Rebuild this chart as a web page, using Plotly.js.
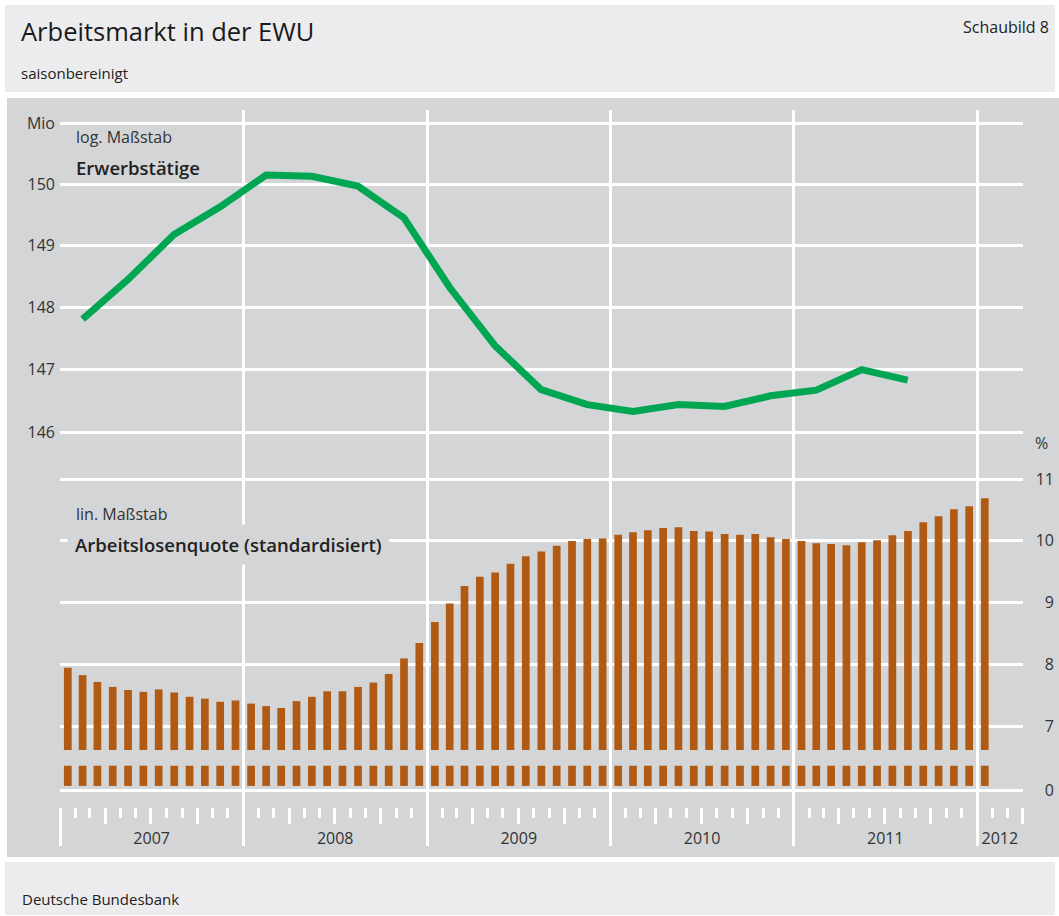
<!DOCTYPE html>
<html>
<head>
<meta charset="utf-8">
<script src="https://cdn.plot.ly/plotly-3.0.1.min.js"></script>
<style>
html,body{margin:0;padding:0;background:#ffffff;}
#chart{width:1059px;height:916px;}
</style>
</head>
<body>
<div id="chart"></div>
<script>
// ---- Data ----
// Erwerbstätige in der EWU (Mio, saisonbereinigt), quarterly
const quarters = ['2007-Q1','2007-Q2','2007-Q3','2007-Q4','2008-Q1','2008-Q2','2008-Q3','2008-Q4',
  '2009-Q1','2009-Q2','2009-Q3','2009-Q4','2010-Q1','2010-Q2','2010-Q3','2010-Q4',
  '2011-Q1','2011-Q2','2011-Q3'];
const employment = [147.81,148.45,149.18,149.63,150.15,150.13,149.97,149.45,
  148.32,147.38,146.68,146.44,146.33,146.44,146.41,146.58,146.67,147.00,146.83];

// Arbeitslosenquote (standardisiert, %), monthly Jan 2007 – Jan 2012
const firstMonth = '2007-01';
const unemployment2007 = [7.95,7.83,7.72,7.64,7.59,7.56,7.60,7.55,7.48,7.45,7.40,7.42];
const unemployment2008 = [7.37,7.33,7.30,7.41,7.48,7.57,7.57,7.64,7.71,7.85,8.10,8.35];
const unemployment2009 = [8.69,8.99,9.27,9.42,9.49,9.63,9.75,9.83,9.92,10.00,10.03,10.04];
const unemployment2010 = [10.10,10.14,10.17,10.21,10.22,10.16,10.15,10.11,10.10,10.11,10.06,10.03];
const unemployment2011 = [10.00,9.96,9.95,9.93,9.98,10.01,10.09,10.16,10.30,10.40,10.51,10.56];
const unemployment2012 = [10.69];
const unemployment = [].concat(unemployment2007,unemployment2008,unemployment2009,
  unemployment2010,unemployment2011,unemployment2012);

// Tick labels
const yearLabels = ['2007','2008','2009','2010','2011','2012'];
const leftTickVals = [146,147,148,149,150,151];
const leftTickText = ['146','147','148','149','150','Mio'];
const rightTickVals = [5.97,7,8,9,10,11];   // 5.97 = position of the "0" below the axis break
const rightTickText = ['0','7','8','9','10','11'];

// ---- Styling / geometry ----
const PLOT_BG = '#d4d5d7';
const PANEL_BG = '#ececee';
const GREEN = '#00a651';
const BROWN = '#b05a14';
const TXT = '#222222';
const RANGE_X = ['2007-01-01','2012-04-01'];
const BAR_BASE = 6.62;     // start of upper bar segment (broken axis)
const STUB_BASE = 6.04;    // lower stub (0 .. break)
const STUB_TOP = 6.366;

const ML = 60, MR = 0, MT = 110, MB = 71, W = 1059, H = 916;
const PW = W - ML - MR, PH = H - MT - MB;
const PX = x => (x - ML) / PW;
const PY = y => (H - MB - y) / PH;
const XDOM = (1022.7 - ML) / PW;

function fmt(ms){ return new Date(ms).toISOString().slice(0,19).replace('T',' '); }
function quarterMid(q){
  const y = +q.slice(0,4), n = +q.slice(6);
  const a = Date.UTC(y,(n-1)*3,1), b = Date.UTC(y,n*3,1);
  return fmt((a+b)/2);
}
const qDates = quarters.map(quarterMid);
const y0 = +firstMonth.slice(0,4), m0 = +firstMonth.slice(5) - 1;
const mDates = unemployment.map((v,i)=>{
  const a = Date.UTC(y0, m0+i, 1), b = Date.UTC(y0, m0+i+1, 1);
  return fmt((a+b)/2);
});
const BAR_W = 0.504 * 30.44 * 86400000;
const rEnd = Date.parse(RANGE_X[1] + 'T00:00:00Z');
const yearMid = yearLabels.map(y=>{
  const a = Date.UTC(+y,0,1), b = Math.min(Date.UTC(+y+1,0,1), rEnd);
  return fmt((a+b)/2);
});

const traces = [
  {type:'bar', x:mDates, y:unemployment.map(()=>STUB_TOP-STUB_BASE), base:STUB_BASE,
   width:BAR_W, xaxis:'x', yaxis:'y2', marker:{color:BROWN, line:{width:0}}, hoverinfo:'skip'},
  {type:'bar', x:mDates, y:unemployment.map(v=>v-BAR_BASE), base:BAR_BASE,
   width:BAR_W, xaxis:'x', yaxis:'y2', marker:{color:BROWN, line:{width:0}}, hoverinfo:'skip'},
  {type:'scatter', mode:'lines', x:qDates, y:employment, xaxis:'x', yaxis:'y',
   line:{color:GREEN, width:7}, hoverinfo:'skip'},
  {type:'scatter', mode:'lines', x:[], y:[], xaxis:'x2', yaxis:'y', hoverinfo:'skip'},
  {type:'scatter', mode:'lines', x:[], y:[], xaxis:'x3', yaxis:'y', hoverinfo:'skip'}
];

const FAM = 'Open Sans, sans-serif';
const tickFont = {family:FAM, size:16, color:'#333333'};
const ann = (text, x, y, o) => Object.assign({text:text, xref:'paper', yref:'paper', x:PX(x), y:PY(y),
  xanchor:'left', yanchor:'middle', showarrow:false,
  font:{family:FAM, size:15.5, color:TXT}}, o||{});

const layout = {
  width:W, height:H,
  margin:{l:ML, r:MR, t:MT, b:MB, pad:0},
  paper_bgcolor:'#ffffff', plot_bgcolor:PLOT_BG,
  showlegend:false, hovermode:false, barmode:'overlay',
  font:{family:FAM, color:'#333333'},
  xaxis:{type:'date', domain:[0,XDOM], range:RANGE_X, anchor:'free', position:PY(807), side:'bottom',
    tick0:'2007-01-01', dtick:'M12', ticks:'outside', ticklen:38, tickwidth:3, tickcolor:'#ffffff',
    showticklabels:false, showgrid:true, gridcolor:'#ffffff', gridwidth:3, zeroline:false, showline:false,
    minor:{tick0:'2007-01-01', dtick:'M3', ticks:'outside', ticklen:16, tickwidth:3, tickcolor:'#ffffff', showgrid:false}},
  xaxis2:{type:'date', overlaying:'x', range:RANGE_X, anchor:'free', position:PY(807), side:'bottom',
    tick0:'2007-01-01', dtick:'M1', ticks:'outside', ticklen:10, tickwidth:3, tickcolor:'#ffffff',
    showticklabels:false, showgrid:false, zeroline:false, showline:false},
  xaxis3:{type:'date', overlaying:'x', range:RANGE_X, anchor:'free', position:0, side:'top',
    tickmode:'array', tickvals:yearMid, ticktext:yearLabels, ticks:'', ticklabelstandoff:-2,
    showgrid:false, zeroline:false, showline:false, tickfont:tickFont},
  yaxis:{type:'log', domain:[0,1], range:[2.1448138, 2.1796034], anchor:'x',
    tickmode:'array', tickvals:leftTickVals, ticktext:leftTickText, ticks:'', ticklabelstandoff:4,
    showgrid:true, gridcolor:'#ffffff', gridwidth:3, zeroline:false, showline:false, tickfont:tickFont},
  yaxis2:{overlaying:'y', range:[5.085, 16.964], anchor:'free', position:1, side:'left',
    tickmode:'array', tickvals:rightTickVals, ticktext:rightTickText, ticks:'', ticklabelstandoff:5,
    showgrid:true, gridcolor:'#ffffff', gridwidth:3, zeroline:false, showline:false, tickfont:tickFont},
  shapes:[
    {type:'rect', xref:'paper', yref:'paper', layer:'below', x0:PX(5), x1:PX(1055), y0:PY(92), y1:PY(5),
     fillcolor:PANEL_BG, line:{width:0}},
    {type:'rect', xref:'paper', yref:'paper', layer:'below', x0:PX(7), x1:PX(1059), y0:PY(857), y1:PY(98),
     fillcolor:PLOT_BG, line:{width:0}},
    {type:'rect', xref:'paper', yref:'paper', layer:'below', x0:PX(5), x1:PX(1055), y0:PY(915), y1:PY(862),
     fillcolor:PANEL_BG, line:{width:0}}
  ],
  annotations:[
    ann('Arbeitsmarkt in der EWU', 19, 31, {font:{family:FAM, size:25.5, color:'#1a1a1a'}}),
    ann('Schaubild 8', 1051, 27, {xanchor:'right', font:{family:FAM, size:16, color:TXT}}),
    ann('saisonbereinigt', 19, 73, {font:{family:FAM, size:15, color:TXT}}),
    ann('Deutsche Bundesbank', 20, 899, {font:{family:FAM, size:15, color:TXT}}),
    ann('log. Maßstab', 74, 137, {font:{family:FAM, size:16, color:'#333333'}}),
    ann('Erwerbstätige', 74, 167, {font:{family:FAM, size:18.5, color:TXT, weight:600}}),
    ann('lin. Maßstab', 74, 514, {font:{family:FAM, size:16, color:'#333333'}}),
    ann('Arbeitslosenquote (standardisiert)', 67, 544, {font:{family:FAM, size:18.5, color:TXT, weight:600},
      bgcolor:PLOT_BG, borderpad:7}),
    ann('%', 1050, 443, {xanchor:'right', font:tickFont})
  ]
};

Plotly.newPlot('chart', traces, layout, {displayModeBar:false, staticPlot:true});
</script>
</body>
</html>
